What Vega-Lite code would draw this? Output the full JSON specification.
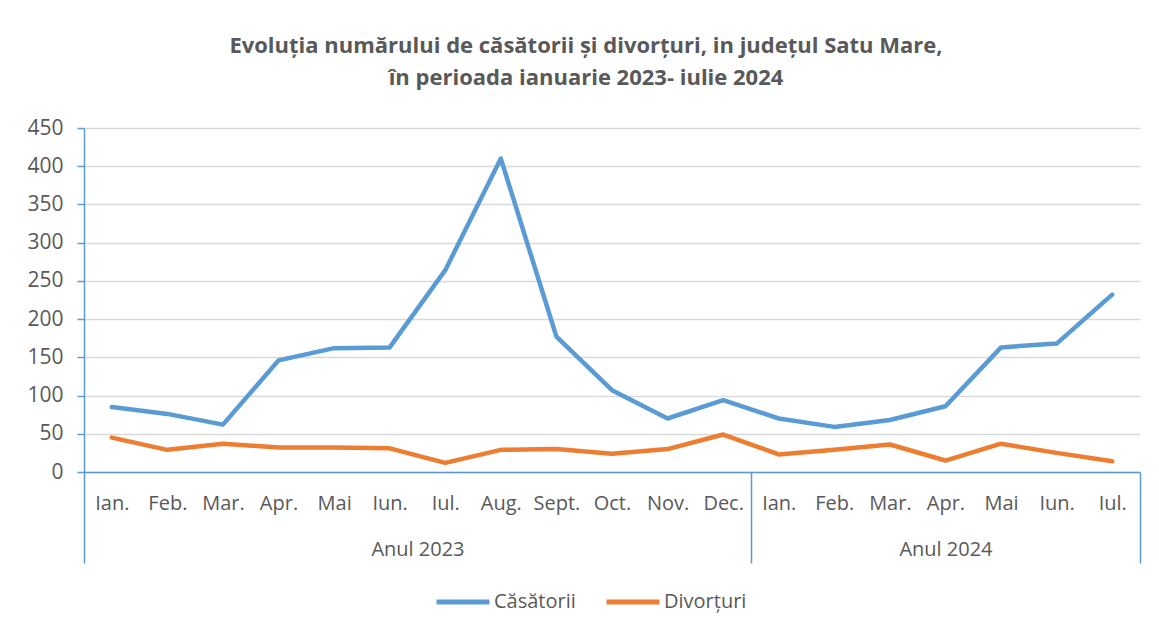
{
  "$schema": "https://vega.github.io/schema/vega-lite/v6.json",
  "width": 1056,
  "height": 344,
  "autosize": {"type": "none"},
  "padding": {"left": 84, "top": 128, "right": 19, "bottom": 161},
  "background": "white",
  "config": {"view": {"stroke": null}, "font": "Open Sans"},
  "title": {
    "text": ["Evoluția numărului de căsătorii și divorțuri, in județul Satu Mare,", "în perioada ianuarie 2023- iulie 2024"],
    "fontSize": 22,
    "fontWeight": "bold",
    "color": "#595959",
    "anchor": "middle",
    "frame": "group",
    "dx": -26,
    "offset": 27,
    "lineHeight": 32,
    "font": "Open Sans"
  },
  "datasets": {
    "serii": [
      {"idx": 1, "luna": "Ian.", "an": 2023, "serie": "Căsătorii", "valoare": 85},
      {"idx": 2, "luna": "Feb.", "an": 2023, "serie": "Căsătorii", "valoare": 76},
      {"idx": 3, "luna": "Mar.", "an": 2023, "serie": "Căsătorii", "valoare": 62},
      {"idx": 4, "luna": "Apr.", "an": 2023, "serie": "Căsătorii", "valoare": 146},
      {"idx": 5, "luna": "Mai", "an": 2023, "serie": "Căsătorii", "valoare": 162},
      {"idx": 6, "luna": "Iun.", "an": 2023, "serie": "Căsătorii", "valoare": 163},
      {"idx": 7, "luna": "Iul.", "an": 2023, "serie": "Căsătorii", "valoare": 264},
      {"idx": 8, "luna": "Aug.", "an": 2023, "serie": "Căsătorii", "valoare": 410},
      {"idx": 9, "luna": "Sept.", "an": 2023, "serie": "Căsătorii", "valoare": 177},
      {"idx": 10, "luna": "Oct.", "an": 2023, "serie": "Căsătorii", "valoare": 107},
      {"idx": 11, "luna": "Nov.", "an": 2023, "serie": "Căsătorii", "valoare": 70},
      {"idx": 12, "luna": "Dec.", "an": 2023, "serie": "Căsătorii", "valoare": 94},
      {"idx": 13, "luna": "Ian.", "an": 2024, "serie": "Căsătorii", "valoare": 70},
      {"idx": 14, "luna": "Feb.", "an": 2024, "serie": "Căsătorii", "valoare": 59},
      {"idx": 15, "luna": "Mar.", "an": 2024, "serie": "Căsătorii", "valoare": 68},
      {"idx": 16, "luna": "Apr.", "an": 2024, "serie": "Căsătorii", "valoare": 86},
      {"idx": 17, "luna": "Mai", "an": 2024, "serie": "Căsătorii", "valoare": 163},
      {"idx": 18, "luna": "Iun.", "an": 2024, "serie": "Căsătorii", "valoare": 168},
      {"idx": 19, "luna": "Iul.", "an": 2024, "serie": "Căsătorii", "valoare": 232},
      {"idx": 1, "luna": "Ian.", "an": 2023, "serie": "Divorțuri", "valoare": 45},
      {"idx": 2, "luna": "Feb.", "an": 2023, "serie": "Divorțuri", "valoare": 29},
      {"idx": 3, "luna": "Mar.", "an": 2023, "serie": "Divorțuri", "valoare": 37},
      {"idx": 4, "luna": "Apr.", "an": 2023, "serie": "Divorțuri", "valoare": 32},
      {"idx": 5, "luna": "Mai", "an": 2023, "serie": "Divorțuri", "valoare": 32},
      {"idx": 6, "luna": "Iun.", "an": 2023, "serie": "Divorțuri", "valoare": 31},
      {"idx": 7, "luna": "Iul.", "an": 2023, "serie": "Divorțuri", "valoare": 12},
      {"idx": 8, "luna": "Aug.", "an": 2023, "serie": "Divorțuri", "valoare": 29},
      {"idx": 9, "luna": "Sept.", "an": 2023, "serie": "Divorțuri", "valoare": 30},
      {"idx": 10, "luna": "Oct.", "an": 2023, "serie": "Divorțuri", "valoare": 24},
      {"idx": 11, "luna": "Nov.", "an": 2023, "serie": "Divorțuri", "valoare": 30},
      {"idx": 12, "luna": "Dec.", "an": 2023, "serie": "Divorțuri", "valoare": 49},
      {"idx": 13, "luna": "Ian.", "an": 2024, "serie": "Divorțuri", "valoare": 23},
      {"idx": 14, "luna": "Feb.", "an": 2024, "serie": "Divorțuri", "valoare": 29},
      {"idx": 15, "luna": "Mar.", "an": 2024, "serie": "Divorțuri", "valoare": 36},
      {"idx": 16, "luna": "Apr.", "an": 2024, "serie": "Divorțuri", "valoare": 15},
      {"idx": 17, "luna": "Mai", "an": 2024, "serie": "Divorțuri", "valoare": 37},
      {"idx": 18, "luna": "Iun.", "an": 2024, "serie": "Divorțuri", "valoare": 25},
      {"idx": 19, "luna": "Iul.", "an": 2024, "serie": "Divorțuri", "valoare": 14}
    ],
    "ani": [
      {"an": "Anul 2023", "mijloc": 6.5},
      {"an": "Anul 2024", "mijloc": 16}
    ]
  },
  "layer": [
    {
      "data": {"name": "serii"},
      "mark": {"type": "line", "strokeWidth": 4.5, "strokeCap": "round", "strokeJoin": "round"},
      "encoding": {
        "x": {
          "field": "idx",
          "type": "quantitative",
          "scale": {"domain": [0.5, 19.5], "nice": false, "zero": false},
          "axis": {
            "orient": "bottom",
            "title": null,
            "values": [1, 2, 3, 4, 5, 6, 7, 8, 9, 10, 11, 12, 13, 14, 15, 16, 17, 18, 19],
            "labelExpr": "['Ian.','Feb.','Mar.','Apr.','Mai','Iun.','Iul.','Aug.','Sept.','Oct.','Nov.','Dec.','Ian.','Feb.','Mar.','Apr.','Mai','Iun.','Iul.'][datum.value - 1]",
            "ticks": false,
            "grid": false,
            "domainColor": "#5b9bd5",
            "domainWidth": 1.5,
            "labelFontSize": 20,
            "labelColor": "#595959",
            "labelBaseline": "middle",
            "labelPadding": 31,
            "labelOverlap": false,
            "labelFlush": false
          }
        },
        "y": {
          "field": "valoare",
          "type": "quantitative",
          "scale": {"domain": [0, 450], "nice": false},
          "axis": {
            "title": null,
            "values": [0, 50, 100, 150, 200, 250, 300, 350, 400, 450],
            "tickColor": "#5b9bd5",
            "tickSize": 7,
            "tickWidth": 1.5,
            "domainColor": "#5b9bd5",
            "domainWidth": 1.5,
            "gridColor": "#d9d9d9",
            "gridWidth": 1.5,
            "labelFontSize": 21,
            "labelColor": "#595959",
            "labelPadding": 14
          }
        },
        "color": {
          "field": "serie",
          "type": "nominal",
          "scale": {"domain": ["Căsătorii", "Divorțuri"], "range": ["#5b9bd5", "#ed7d31"]},
          "legend": {
            "orient": "none",
            "legendX": 350,
            "legendY": 445,
            "direction": "horizontal",
            "title": null,
            "symbolType": "stroke",
            "symbolSize": 2800,
            "symbolStrokeWidth": 5,
            "labelFontSize": 20,
            "labelColor": "#595959",
            "columnPadding": 20,
            "labelOffset": 2
          }
        }
      }
    },
    {
      "data": {"name": "ani"},
      "mark": {"type": "text", "opacity": 0},
      "encoding": {
        "x": {
          "field": "mijloc",
          "type": "quantitative",
          "axis": {
            "orient": "bottom",
            "title": null,
            "values": [0.5, 6.5, 12.5, 16, 19.5],
            "labelExpr": "datum.value == 6.5 ? 'Anul 2023' : datum.value == 16 ? 'Anul 2024' : ''",
            "domain": false,
            "grid": false,
            "tickColor": "#5b9bd5",
            "tickWidth": 1.5,
            "tickSize": 91,
            "tickOpacity": {"condition": {"test": "datum.value == 6.5 || datum.value == 16", "value": 0}, "value": 1},
            "labelFontSize": 20,
            "labelColor": "#595959",
            "labelBaseline": "middle",
            "labelPadding": -14,
            "labelOverlap": false,
            "labelFlush": false
          }
        },
        "text": {"field": "an"}
      }
    }
  ],
  "resolve": {"axis": {"x": "independent"}}
}
